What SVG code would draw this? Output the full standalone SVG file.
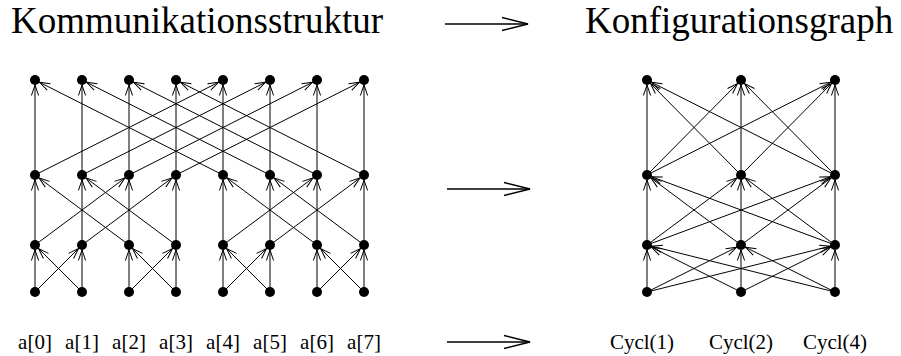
<svg xmlns="http://www.w3.org/2000/svg" width="901" height="356" viewBox="0 0 901 356">
  <style>
    .title { font-family: "Liberation Serif", "Times New Roman", serif; font-size: 37px; fill: #000; }
    .lbl { font-family: "Liberation Serif", "Times New Roman", serif; font-size: 21px; fill: #000; text-anchor: middle; }
    .node circle { fill: #000; }
    .edges line { stroke: #000; stroke-width: 1; fill: none; }
    .big line { stroke: #000; stroke-width: 1.3; fill: none; }
  </style>
  <defs>
    <!-- small open arrowhead, tip stops at the rim of the target dot -->
    <marker id="open" markerUnits="userSpaceOnUse" markerWidth="22" markerHeight="10" viewBox="-18 -5 22 10" refX="0" refY="0" orient="auto">
      <path d="M -15.5 -3.6 L -5 0 L -15.5 3.6" fill="none" stroke="#000" stroke-width="1"/>
    </marker>
    <!-- large open arrowhead for the transformation arrows -->
    <marker id="openBig" markerUnits="userSpaceOnUse" markerWidth="32" markerHeight="16" viewBox="-30 -8 32 16" refX="0" refY="0" orient="auto">
      <path d="M -26 -6.5 L 0 0 L -26 6.5" fill="none" stroke="#000" stroke-width="1.3"/>
    </marker>
  </defs>

  <!-- headings -->
  <text class="title" x="11" y="33">Kommunikationsstruktur</text>
  <text class="title" x="585" y="33">Konfigurationsgraph</text>

  <!-- transformation arrows -->
  <g class="big" marker-end="url(#openBig)">
    <line x1="445" y1="24" x2="528" y2="24"/>
    <line x1="447" y1="189" x2="530" y2="189"/>
    <line x1="447" y1="342" x2="530" y2="342"/>
  </g>

  <!-- butterfly network connectors -->
  <g id="connectors-left" class="edges" marker-end="url(#open)">
    <!-- stage 1: stride 1 -->
    <line x1="35" y1="292" x2="35" y2="245"/>
    <line x1="82" y1="292" x2="82" y2="245"/>
    <line x1="129" y1="292" x2="129" y2="245"/>
    <line x1="176" y1="292" x2="176" y2="245"/>
    <line x1="223" y1="292" x2="223" y2="245"/>
    <line x1="270" y1="292" x2="270" y2="245"/>
    <line x1="317" y1="292" x2="317" y2="245"/>
    <line x1="364" y1="292" x2="364" y2="245"/>
    <line x1="35" y1="292" x2="82" y2="245"/>
    <line x1="82" y1="292" x2="35" y2="245"/>
    <line x1="129" y1="292" x2="176" y2="245"/>
    <line x1="176" y1="292" x2="129" y2="245"/>
    <line x1="223" y1="292" x2="270" y2="245"/>
    <line x1="270" y1="292" x2="223" y2="245"/>
    <line x1="317" y1="292" x2="364" y2="245"/>
    <line x1="364" y1="292" x2="317" y2="245"/>
    <!-- stage 2: stride 2 -->
    <line x1="35" y1="245" x2="35" y2="175"/>
    <line x1="82" y1="245" x2="82" y2="175"/>
    <line x1="129" y1="245" x2="129" y2="175"/>
    <line x1="176" y1="245" x2="176" y2="175"/>
    <line x1="223" y1="245" x2="223" y2="175"/>
    <line x1="270" y1="245" x2="270" y2="175"/>
    <line x1="317" y1="245" x2="317" y2="175"/>
    <line x1="364" y1="245" x2="364" y2="175"/>
    <line x1="35" y1="245" x2="129" y2="175"/>
    <line x1="129" y1="245" x2="35" y2="175"/>
    <line x1="82" y1="245" x2="176" y2="175"/>
    <line x1="176" y1="245" x2="82" y2="175"/>
    <line x1="223" y1="245" x2="317" y2="175"/>
    <line x1="317" y1="245" x2="223" y2="175"/>
    <line x1="270" y1="245" x2="364" y2="175"/>
    <line x1="364" y1="245" x2="270" y2="175"/>
    <!-- stage 3: stride 4 -->
    <line x1="35" y1="175" x2="35" y2="80"/>
    <line x1="82" y1="175" x2="82" y2="80"/>
    <line x1="129" y1="175" x2="129" y2="80"/>
    <line x1="176" y1="175" x2="176" y2="80"/>
    <line x1="223" y1="175" x2="223" y2="80"/>
    <line x1="270" y1="175" x2="270" y2="80"/>
    <line x1="317" y1="175" x2="317" y2="80"/>
    <line x1="364" y1="175" x2="364" y2="80"/>
    <line x1="35" y1="175" x2="223" y2="80"/>
    <line x1="223" y1="175" x2="35" y2="80"/>
    <line x1="82" y1="175" x2="270" y2="80"/>
    <line x1="270" y1="175" x2="82" y2="80"/>
    <line x1="129" y1="175" x2="317" y2="80"/>
    <line x1="317" y1="175" x2="129" y2="80"/>
    <line x1="176" y1="175" x2="364" y2="80"/>
    <line x1="364" y1="175" x2="176" y2="80"/>
  </g>

  <!-- configuration graph connectors: complete between consecutive rows -->
  <g id="connectors-right" class="edges" marker-end="url(#open)">
    <line x1="647" y1="292" x2="647" y2="245"/>
    <line x1="647" y1="292" x2="741" y2="245"/>
    <line x1="647" y1="292" x2="835" y2="245"/>
    <line x1="741" y1="292" x2="647" y2="245"/>
    <line x1="741" y1="292" x2="741" y2="245"/>
    <line x1="741" y1="292" x2="835" y2="245"/>
    <line x1="835" y1="292" x2="647" y2="245"/>
    <line x1="835" y1="292" x2="741" y2="245"/>
    <line x1="835" y1="292" x2="835" y2="245"/>

    <line x1="647" y1="245" x2="647" y2="175"/>
    <line x1="647" y1="245" x2="741" y2="175"/>
    <line x1="647" y1="245" x2="835" y2="175"/>
    <line x1="741" y1="245" x2="647" y2="175"/>
    <line x1="741" y1="245" x2="741" y2="175"/>
    <line x1="741" y1="245" x2="835" y2="175"/>
    <line x1="835" y1="245" x2="647" y2="175"/>
    <line x1="835" y1="245" x2="741" y2="175"/>
    <line x1="835" y1="245" x2="835" y2="175"/>

    <line x1="647" y1="175" x2="647" y2="80"/>
    <line x1="647" y1="175" x2="741" y2="80"/>
    <line x1="647" y1="175" x2="835" y2="80"/>
    <line x1="741" y1="175" x2="647" y2="80"/>
    <line x1="741" y1="175" x2="741" y2="80"/>
    <line x1="741" y1="175" x2="835" y2="80"/>
    <line x1="835" y1="175" x2="647" y2="80"/>
    <line x1="835" y1="175" x2="741" y2="80"/>
    <line x1="835" y1="175" x2="835" y2="80"/>
  </g>

  <!-- butterfly nodes -->
  <g id="L-r0-c0" class="node"><circle cx="35" cy="80" r="5"/></g>
  <g id="L-r0-c1" class="node"><circle cx="82" cy="80" r="5"/></g>
  <g id="L-r0-c2" class="node"><circle cx="129" cy="80" r="5"/></g>
  <g id="L-r0-c3" class="node"><circle cx="176" cy="80" r="5"/></g>
  <g id="L-r0-c4" class="node"><circle cx="223" cy="80" r="5"/></g>
  <g id="L-r0-c5" class="node"><circle cx="270" cy="80" r="5"/></g>
  <g id="L-r0-c6" class="node"><circle cx="317" cy="80" r="5"/></g>
  <g id="L-r0-c7" class="node"><circle cx="364" cy="80" r="5"/></g>
  <g id="L-r1-c0" class="node"><circle cx="35" cy="175" r="5"/></g>
  <g id="L-r1-c1" class="node"><circle cx="82" cy="175" r="5"/></g>
  <g id="L-r1-c2" class="node"><circle cx="129" cy="175" r="5"/></g>
  <g id="L-r1-c3" class="node"><circle cx="176" cy="175" r="5"/></g>
  <g id="L-r1-c4" class="node"><circle cx="223" cy="175" r="5"/></g>
  <g id="L-r1-c5" class="node"><circle cx="270" cy="175" r="5"/></g>
  <g id="L-r1-c6" class="node"><circle cx="317" cy="175" r="5"/></g>
  <g id="L-r1-c7" class="node"><circle cx="364" cy="175" r="5"/></g>
  <g id="L-r2-c0" class="node"><circle cx="35" cy="245" r="5"/></g>
  <g id="L-r2-c1" class="node"><circle cx="82" cy="245" r="5"/></g>
  <g id="L-r2-c2" class="node"><circle cx="129" cy="245" r="5"/></g>
  <g id="L-r2-c3" class="node"><circle cx="176" cy="245" r="5"/></g>
  <g id="L-r2-c4" class="node"><circle cx="223" cy="245" r="5"/></g>
  <g id="L-r2-c5" class="node"><circle cx="270" cy="245" r="5"/></g>
  <g id="L-r2-c6" class="node"><circle cx="317" cy="245" r="5"/></g>
  <g id="L-r2-c7" class="node"><circle cx="364" cy="245" r="5"/></g>
  <g id="L-r3-c0" class="node"><circle cx="35" cy="292" r="5"/></g>
  <g id="L-r3-c1" class="node"><circle cx="82" cy="292" r="5"/></g>
  <g id="L-r3-c2" class="node"><circle cx="129" cy="292" r="5"/></g>
  <g id="L-r3-c3" class="node"><circle cx="176" cy="292" r="5"/></g>
  <g id="L-r3-c4" class="node"><circle cx="223" cy="292" r="5"/></g>
  <g id="L-r3-c5" class="node"><circle cx="270" cy="292" r="5"/></g>
  <g id="L-r3-c6" class="node"><circle cx="317" cy="292" r="5"/></g>
  <g id="L-r3-c7" class="node"><circle cx="364" cy="292" r="5"/></g>

  <!-- configuration graph nodes -->
  <g id="R-r0-c0" class="node"><circle cx="647" cy="80" r="5"/></g>
  <g id="R-r0-c1" class="node"><circle cx="741" cy="80" r="5"/></g>
  <g id="R-r0-c2" class="node"><circle cx="835" cy="80" r="5"/></g>
  <g id="R-r1-c0" class="node"><circle cx="647" cy="175" r="5"/></g>
  <g id="R-r1-c1" class="node"><circle cx="741" cy="175" r="5"/></g>
  <g id="R-r1-c2" class="node"><circle cx="835" cy="175" r="5"/></g>
  <g id="R-r2-c0" class="node"><circle cx="647" cy="245" r="5"/></g>
  <g id="R-r2-c1" class="node"><circle cx="741" cy="245" r="5"/></g>
  <g id="R-r2-c2" class="node"><circle cx="835" cy="245" r="5"/></g>
  <g id="R-r3-c0" class="node"><circle cx="647" cy="292" r="5"/></g>
  <g id="R-r3-c1" class="node"><circle cx="741" cy="292" r="5"/></g>
  <g id="R-r3-c2" class="node"><circle cx="835" cy="292" r="5"/></g>

  <!-- column labels -->
  <g id="labels-left">
    <text class="lbl" x="35" y="349">a[0]</text>
    <text class="lbl" x="82" y="349">a[1]</text>
    <text class="lbl" x="129" y="349">a[2]</text>
    <text class="lbl" x="176" y="349">a[3]</text>
    <text class="lbl" x="223" y="349">a[4]</text>
    <text class="lbl" x="270" y="349">a[5]</text>
    <text class="lbl" x="317" y="349">a[6]</text>
    <text class="lbl" x="364" y="349">a[7]</text>
  </g>
  <g id="labels-right">
    <text class="lbl" x="642" y="349">Cycl(1)</text>
    <text class="lbl" x="741" y="349">Cycl(2)</text>
    <text class="lbl" x="835" y="349">Cycl(4)</text>
  </g>
</svg>
